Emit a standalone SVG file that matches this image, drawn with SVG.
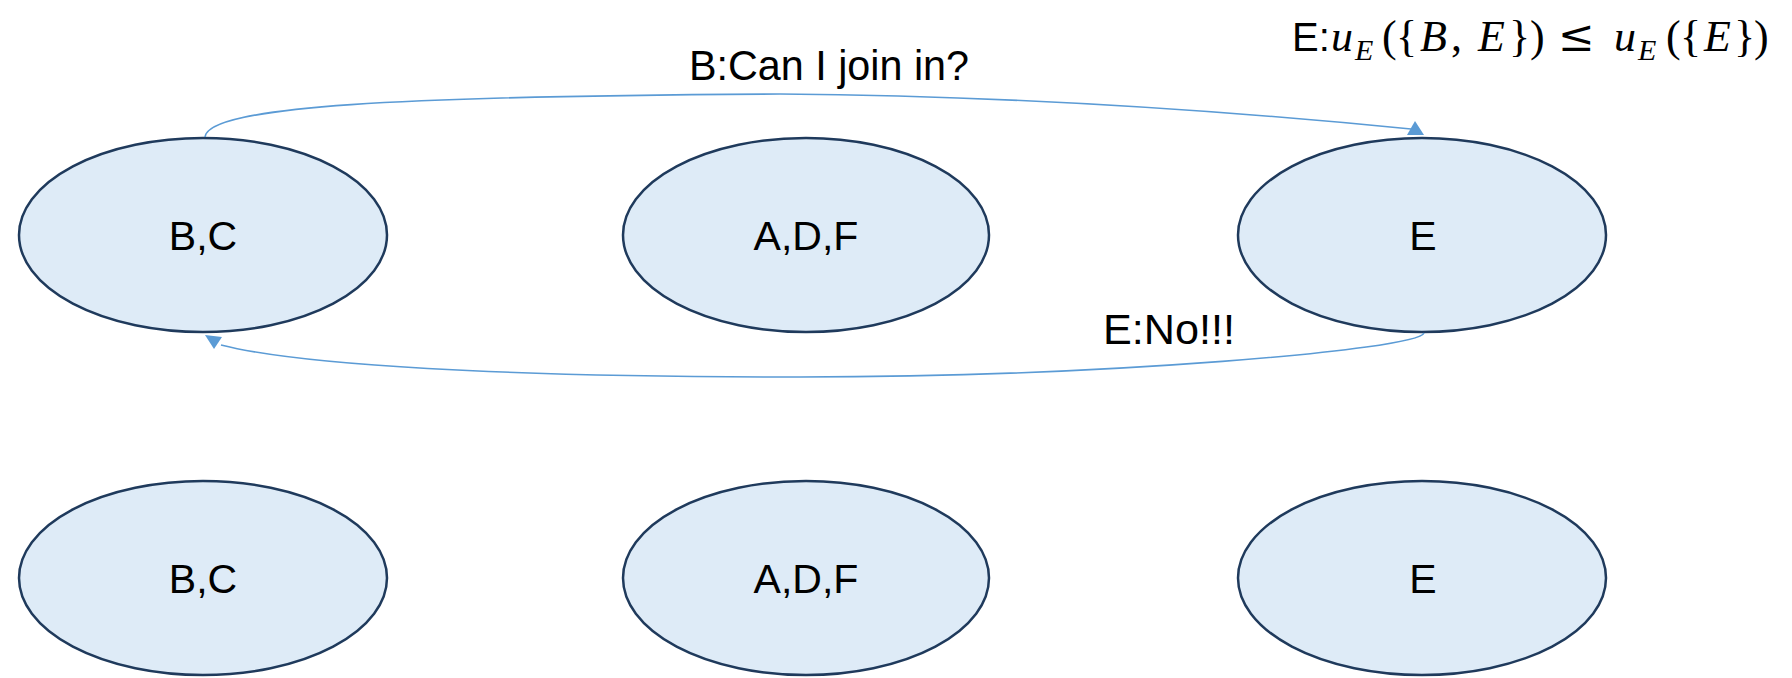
<svg xmlns="http://www.w3.org/2000/svg" width="1792" height="678" viewBox="0 0 1792 678">
  <style>
    .node ellipse { fill: #DEEBF7; stroke: #1F3A5C; stroke-width: 2.5; }
    .node text { font-family: "Liberation Sans", Arial, sans-serif; font-size: 41px; fill: #000; text-anchor: middle; }
    .edge { fill: none; stroke: #5B9BD5; stroke-width: 1.6; }
    .head { fill: #5B9BD5; }
    .label { font-family: "Liberation Sans", Arial, sans-serif; font-size: 42px; fill: #000; }
    .math { font-family: "Liberation Serif", "Times New Roman", serif; font-size: 44px; fill: #000; }
    .mi { font-style: italic; }
    .sub { font-style: italic; font-size: 30px; }
    .rel { font-family: "DejaVu Serif", serif; font-size: 44px; }
    .lead { font-family: "Liberation Sans", Arial, sans-serif; font-size: 40px; }
  </style>

  <rect width="1792" height="678" fill="#FFFFFF"/>

  <!-- top row -->
  <g id="node-bc-top" class="node">
    <ellipse cx="203" cy="235" rx="184" ry="97"/>
    <text x="203" y="250">B,C</text>
  </g>
  <g id="node-adf-top" class="node">
    <ellipse cx="806" cy="235" rx="183" ry="97"/>
    <text x="806" y="250">A,D,F</text>
  </g>
  <g id="node-e-top" class="node">
    <ellipse cx="1422" cy="235" rx="184" ry="97"/>
    <text x="1423" y="250">E</text>
  </g>

  <!-- bottom row -->
  <g id="node-bc-bottom" class="node">
    <ellipse cx="203" cy="578" rx="184" ry="97"/>
    <text x="203" y="593">B,C</text>
  </g>
  <g id="node-adf-bottom" class="node">
    <ellipse cx="806" cy="578" rx="183" ry="97"/>
    <text x="806" y="593">A,D,F</text>
  </g>
  <g id="node-e-bottom" class="node">
    <ellipse cx="1422" cy="578" rx="184" ry="97"/>
    <text x="1423" y="593">E</text>
  </g>

  <!-- connectors -->
  <g id="connectors">
    <path class="edge" d="M205,137 C208,106 400,96 780,94 C1050,96 1280,116 1411,129"/>
    <polygon class="head" points="1407,135 1424,135 1415,121"/>
    <path class="edge" d="M1424,333 C1418,350 1100,377 800,377 C500,377 300,365 221,345"/>
    <polygon class="head" points="205,335 222,337 214,349"/>
  </g>

  <!-- labels -->
  <g id="labels">
    <text class="label" x="689" y="80" textLength="280" lengthAdjust="spacingAndGlyphs">B:Can I join in?</text>
    <text class="label" x="1103" y="344" textLength="132" lengthAdjust="spacingAndGlyphs">E:No!!!</text>
    <text class="math" y="51">
      <tspan x="1292" class="lead">E:</tspan>
      <tspan x="1331" class="mi">u</tspan>
      <tspan x="1355" y="60" class="sub">E</tspan>
      <tspan x="1382" y="51">(</tspan>
      <tspan x="1396">{</tspan>
      <tspan x="1420" class="mi">B</tspan>
      <tspan x="1451">,</tspan>
      <tspan x="1478" class="mi">E</tspan>
      <tspan x="1509">}</tspan>
      <tspan x="1530">)</tspan>
      <tspan x="1558" class="rel">≤</tspan>
      <tspan x="1614" class="mi">u</tspan>
      <tspan x="1638" y="60" class="sub">E</tspan>
      <tspan x="1666" y="51">(</tspan>
      <tspan x="1680">{</tspan>
      <tspan x="1704" class="mi">E</tspan>
      <tspan x="1734">}</tspan>
      <tspan x="1754">)</tspan>
    </text>
  </g>
</svg>
